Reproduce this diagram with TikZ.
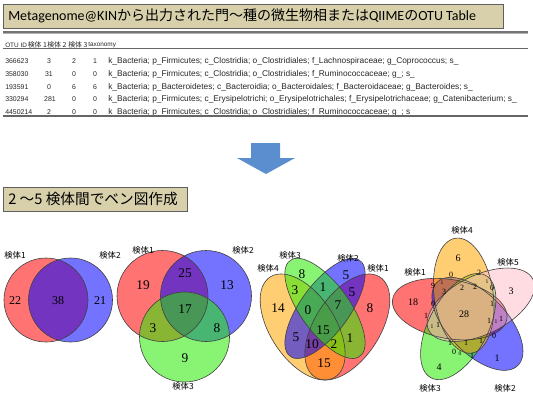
\documentclass[tikz,border=0pt]{standalone}
\usepackage{fontspec}
\setmainfont{Liberation Serif}
\newfontfamily\cjk{Noto Sans CJK JP}
\newfontfamily\tabfont{Liberation Sans}
\newfontfamily\latinfont{Carlito}
\definecolor{boxfill}{RGB}{215,208,170}
\definecolor{boxline}{RGB}{95,95,95}
\definecolor{arrowblue}{RGB}{91,142,207}
\definecolor{vred}{RGB}{255,0,0}
\definecolor{vblue}{RGB}{0,0,255}
\definecolor{vgreen}{RGB}{40,235,0}
\definecolor{vorange}{RGB}{255,165,0}
\definecolor{vpink}{RGB}{255,192,203}
\begin{document}
\begin{tikzpicture}[x=0.75pt,y=-0.75pt,
  titlebox/.style={draw=boxline, fill=boxfill, line width=0.8pt},
  tabtxt/.style={font=\tabfont\fontsize{6.25}{7}\selectfont, text=black!85, inner sep=0, anchor=west},
  tabid/.style={font=\tabfont\fontsize{5.2}{6}\selectfont, text=black!85, inner sep=0, anchor=west},
  tabhead/.style={font=\tabfont\fontsize{4.8}{6}\selectfont, text=black!85, inner sep=0, anchor=west},
  tabnum/.style={font=\tabfont\fontsize{5.2}{6}\selectfont, text=black!85, inner sep=0},
  tabjp/.style={font=\cjk\fontsize{5.2}{6}\selectfont, text=black!85, inner sep=0, anchor=west},
  vfill/.style={fill opacity=0.55},
  vline/.style={draw=black!75, line width=0.45pt},
  vnumA/.style={font=\fontsize{9}{9}\selectfont, inner sep=0},
  vnumB/.style={font=\fontsize{10}{10}\selectfont, inner sep=0},
  vnumC/.style={font=\fontsize{7.5}{7.5}\selectfont, inner sep=0},
  vnumD/.style={font=\fontsize{6}{6}\selectfont, inner sep=0},
  vnumE/.style={font=\fontsize{4.2}{4.2}\selectfont, inner sep=0},
  vlab/.style={font=\cjk\fontsize{6.3}{7}\selectfont, inner sep=0},
  rule1/.style={draw=black!55, line width=1.1pt},
  rule2/.style={draw=black!30, line width=0.7pt}
]
\useasboundingbox (0,0) rectangle (533,400);
% ---------- title ----------
\node[titlebox, minimum width=375pt, minimum height=18pt, inner sep=0, anchor=north west] (titlebox) at (3,4) {};
\node[anchor=west, inner sep=0, font=\fontsize{10.5}{12}\selectfont] (title) at (8,16)
  {\latinfont Metagenome@KIN\cjk から出力された門～種の微生物相または\latinfont QIIME\cjk の\latinfont OTU Table};
\coordinate (r1a) at (3,32); \coordinate (r1b) at (528,32);
\coordinate (r2a) at (3,33.6); \coordinate (r2b) at (528,33.6);
\draw[rule1] (r1a) -- (r1b);
\draw[rule2] (r2a) -- (r2b);
% ---------- table ----------
\node[tabhead] (h1) at (5,45) {OTU ID};
\node[tabjp] (h2) at (27.5,45) {検体 1};
\node[tabjp] (h3) at (47,45) {検体 2};
\node[tabjp] (h4) at (68,45) {検体 3};
\node[tabhead] (h5) at (88,45) {taxonomy};
\coordinate (t1a) at (3,48.5); \coordinate (t1b) at (528,48.5);
\draw[draw=black!60, line width=0.9pt] (t1a) -- (t1b);
% rows
\node[tabid] (a1) at (5,61) {366623};
\node[tabnum] (a2) at (49,61) {3};
\node[tabnum] (a3) at (74,61) {2};
\node[tabnum] (a4) at (95,61) {1};
\node[tabtxt] (a5) at (108,61) {k\_Bacteria; p\_Firmicutes; c\_Clostridia; o\_Clostridiales; f\_Lachnospiraceae; g\_Coprococcus; s\_};
\node[tabid] (b1) at (5,74) {358030};
\node[tabnum] (b2) at (49,74) {31};
\node[tabnum] (b3) at (74,74) {0};
\node[tabnum] (b4) at (95,74) {0};
\node[tabtxt] (b5) at (108,74) {k\_Bacteria; p\_Firmicutes; c\_Clostridia; o\_Clostridiales; f\_Ruminococcaceae; g\_; s\_};
\node[tabid] (c1) at (5,87) {193591};
\node[tabnum] (c2) at (49,87) {0};
\node[tabnum] (c3) at (74,87) {6};
\node[tabnum] (c4) at (95,87) {6};
\node[tabtxt] (c5) at (108,87) {k\_Bacteria; p\_Bacteroidetes; c\_Bacteroidia; o\_Bacteroidales; f\_Bacteroidaceae; g\_Bacteroides; s\_};
\node[tabid] (d1) at (5,99.5) {330294};
\node[tabnum] (d2) at (50,99.5) {281};
\node[tabnum] (d3) at (74,99.5) {0};
\node[tabnum] (d4) at (95,99.5) {0};
\node[tabtxt] (d5) at (108,99.5) {k\_Bacteria; p\_Firmicutes; c\_Erysipelotrichi; o\_Erysipelotrichales; f\_Erysipelotrichaceae; g\_Catenibacterium; s\_};
\node[tabid] (e1) at (5,112) {4450214};
\node[tabnum] (e2) at (49,112) {2};
\node[tabnum] (e3) at (74,112) {0};
\node[tabnum] (e4) at (95,112) {0};
\node[tabtxt] (e5) at (108,112) {k\_Bacteria; p\_Firmicutes; c\_Clostridia; o\_Clostridiales; f\_Ruminococcaceae; g\_; s\_};
\coordinate (t2a) at (3,116); \coordinate (t2b) at (528,116);
\draw[draw=black!60, line width=0.9pt] (t2a) -- (t2b);
% ---------- arrow ----------
\fill[arrowblue] (251,143) -- (280,143) -- (280,158) -- (295,158) -- (266,174) -- (237,158) -- (251,158) -- cycle;
% ---------- subtitle ----------
\node[titlebox, minimum width=138pt, minimum height=18pt, inner sep=0, anchor=north west] (subbox) at (3,187) {};
\node[anchor=west, inner sep=0, font=\cjk\fontsize{11}{12}\selectfont] (subtitle) at (8,199) {2 ～5 検体間でベン図作成};
% ---------- 2-set ----------
\path[vfill, fill=vred] (46,300) circle (42);
\path[vfill, fill=vblue] (70.5,300) circle (42);
\draw[vline] (46,300) circle (42);
\draw[vline] (70.5,300) circle (42);
\node[vnumA] (n2a) at (15,301) {22};
\node[vnumA] (n2b) at (58,301) {38};
\node[vnumA] (n2c) at (100,301) {21};
\node[vlab] (l2a) at (15,255) {検体1};
\node[vlab] (l2b) at (110,255) {検体2};
% ---------- 3-set ----------
\path[vfill, fill=vred] (162.5,296) circle (45.5);
\path[vfill, fill=vblue] (206,296) circle (45.5);
\path[vfill, fill=vgreen] (184.5,337) circle (45);
\draw[vline] (162.5,296) circle (45.5);
\draw[vline] (206,296) circle (45.5);
\draw[vline] (184.5,337) circle (45);
\node[vnumB] (n3a) at (143,285) {19};
\node[vnumB] (n3b) at (185,273) {25};
\node[vnumB] (n3c) at (227,285) {13};
\node[vnumB] (n3d) at (185,309) {17};
\node[vnumB] (n3e) at (153,328) {3};
\node[vnumB] (n3f) at (217,328) {8};
\node[vnumB] (n3g) at (185,358) {9};
\node[vlab] (l3a) at (143,250) {検体1};
\node[vlab] (l3b) at (243,250) {検体2};
\node[vlab] (l3c) at (183,386) {検体3};
% ---------- 4-set ----------
\begin{scope}[shift={(250.5,414.4)}, xscale=149, yscale=-186]
  \path[vfill, fill=vred, shift={(0.65,0.47)}, rotate=135] (0,0) ellipse (0.35 and 0.2);
  \path[vfill, fill=vorange, shift={(0.35,0.47)}, rotate=45] (0,0) ellipse (0.35 and 0.2);
  \path[vfill, fill=vblue, shift={(0.5,0.57)}, rotate=135] (0,0) ellipse (0.35 and 0.15);
  \path[vfill, fill=vgreen, shift={(0.5,0.57)}, rotate=45] (0,0) ellipse (0.35 and 0.15);
  \draw[vline, shift={(0.65,0.47)}, rotate=135] (0,0) ellipse (0.35 and 0.2);
  \draw[vline, shift={(0.35,0.47)}, rotate=45] (0,0) ellipse (0.35 and 0.2);
  \draw[vline, shift={(0.5,0.57)}, rotate=135] (0,0) ellipse (0.35 and 0.15);
  \draw[vline, shift={(0.5,0.57)}, rotate=45] (0,0) ellipse (0.35 and 0.15);
\end{scope}
\node[vnumB] (n4a) at (302,274) {8};
\node[vnumB] (n4b) at (346,275) {5};
\node[vnumB] (n4c) at (278,308) {14};
\node[vnumB] (n4d) at (370,308) {8};
\node[vnumB] (n4e) at (295,290) {3};
\node[vnumB] (n4f) at (323,287) {1};
\node[vnumB] (n4g) at (352,292) {5};
\node[vnumB] (n4h) at (308,310) {0};
\node[vnumB] (n4i) at (338,305) {7};
\node[vnumB] (n4j) at (323,330) {15};
\node[vnumB] (n4k) at (296,337) {5};
\node[vnumB] (n4l) at (350,338) {1};
\node[vnumB] (n4m) at (312,344) {10};
\node[vnumB] (n4n) at (334,344) {2};
\node[vnumB] (n4o) at (324,363) {15};
\node[vlab] (l4c) at (290,255) {検体3};
\node[vlab] (l4b) at (348,258) {検体2};
\node[vlab] (l4a) at (378,268) {検体1};
\node[vlab] (l4d) at (268,268) {検体4};
% ---------- 5-set ----------
\begin{scope}[shift={(466,312)}]
  \path[vfill, fill=vred, rotate=170, shift={(16.5,0)}] (0,0) ellipse (58 and 29.5);
  \path[vfill, fill=vblue, rotate=-46, shift={(16.5,0)}] (0,0) ellipse (58 and 29.5);
  \path[vfill, fill=vgreen, rotate=-118, shift={(16.5,0)}] (0,0) ellipse (58 and 29.5);
  \path[vfill, fill=vorange, rotate=98, shift={(16.5,0)}] (0,0) ellipse (58 and 29.5);
  \path[vfill, fill=vpink, rotate=26, shift={(16.5,0)}] (0,0) ellipse (58 and 29.5);
  \draw[vline, rotate=170, shift={(16.5,0)}] (0,0) ellipse (58 and 29.5);
  \draw[vline, rotate=-46, shift={(16.5,0)}] (0,0) ellipse (58 and 29.5);
  \draw[vline, rotate=-118, shift={(16.5,0)}] (0,0) ellipse (58 and 29.5);
  \draw[vline, rotate=98, shift={(16.5,0)}] (0,0) ellipse (58 and 29.5);
  \draw[vline, rotate=26, shift={(16.5,0)}] (0,0) ellipse (58 and 29.5);
\end{scope}
\node[vnumC] (p01) at (458,258) {6};
\node[vnumC] (p02) at (413,302) {18};
\node[vnumC] (p03) at (511,291) {3};
\node[vnumC] (p04) at (497,358) {1};
\node[vnumC] (p05) at (439,367) {4};
\node[vnumC] (p06) at (464,314) {28};
\node[vnumD] (p07) at (451,275) {0};
\node[vnumD] (p08) at (479,273) {2};
\node[vnumD] (p09) at (433,286) {9};
\node[vnumD] (p10) at (444,292) {3};
\node[vnumD] (p11) at (462,288) {2};
\node[vnumD] (p12) at (475,287) {2};
\node[vnumD] (p13) at (492,288) {0};
\node[vnumD] (p14) at (433,304) {0};
\node[vnumD] (p15) at (492,304) {1};
\node[vnumD] (p16) at (426,316) {1};
\node[vnumD] (p17) at (489,321) {1};
\node[vnumD] (p18) at (501,319) {1};
\node[vnumD] (p19) at (438,325) {1};
\node[vnumD] (p20) at (494,336) {0};
\node[vnumD] (p21) at (450,343) {1};
\node[vnumD] (p22) at (466,343) {1};
\node[vnumD] (p23) at (481,341) {1};
\node[vnumD] (p24) at (454,352) {0};
\node[vnumD] (p25) at (472,356) {1};
\node[vnumE] (p26) at (487,282) {1};
\node[vnumE] (p27) at (442,283) {1};
\node[vnumE] (p28) at (432,327) {1};
\node[vnumE] (p29) at (496,322) {1};
\node[vnumE] (p30) at (460,354) {0};
\node[vlab] (l5d) at (462,230) {検体4};
\node[vlab] (l5e) at (508,262) {検体5};
\node[vlab] (l5a) at (415,272) {検体1};
\node[vlab] (l5c) at (430,388) {検体3};
\node[vlab] (l5b) at (505,388) {検体2};
\end{tikzpicture}
\end{document}
